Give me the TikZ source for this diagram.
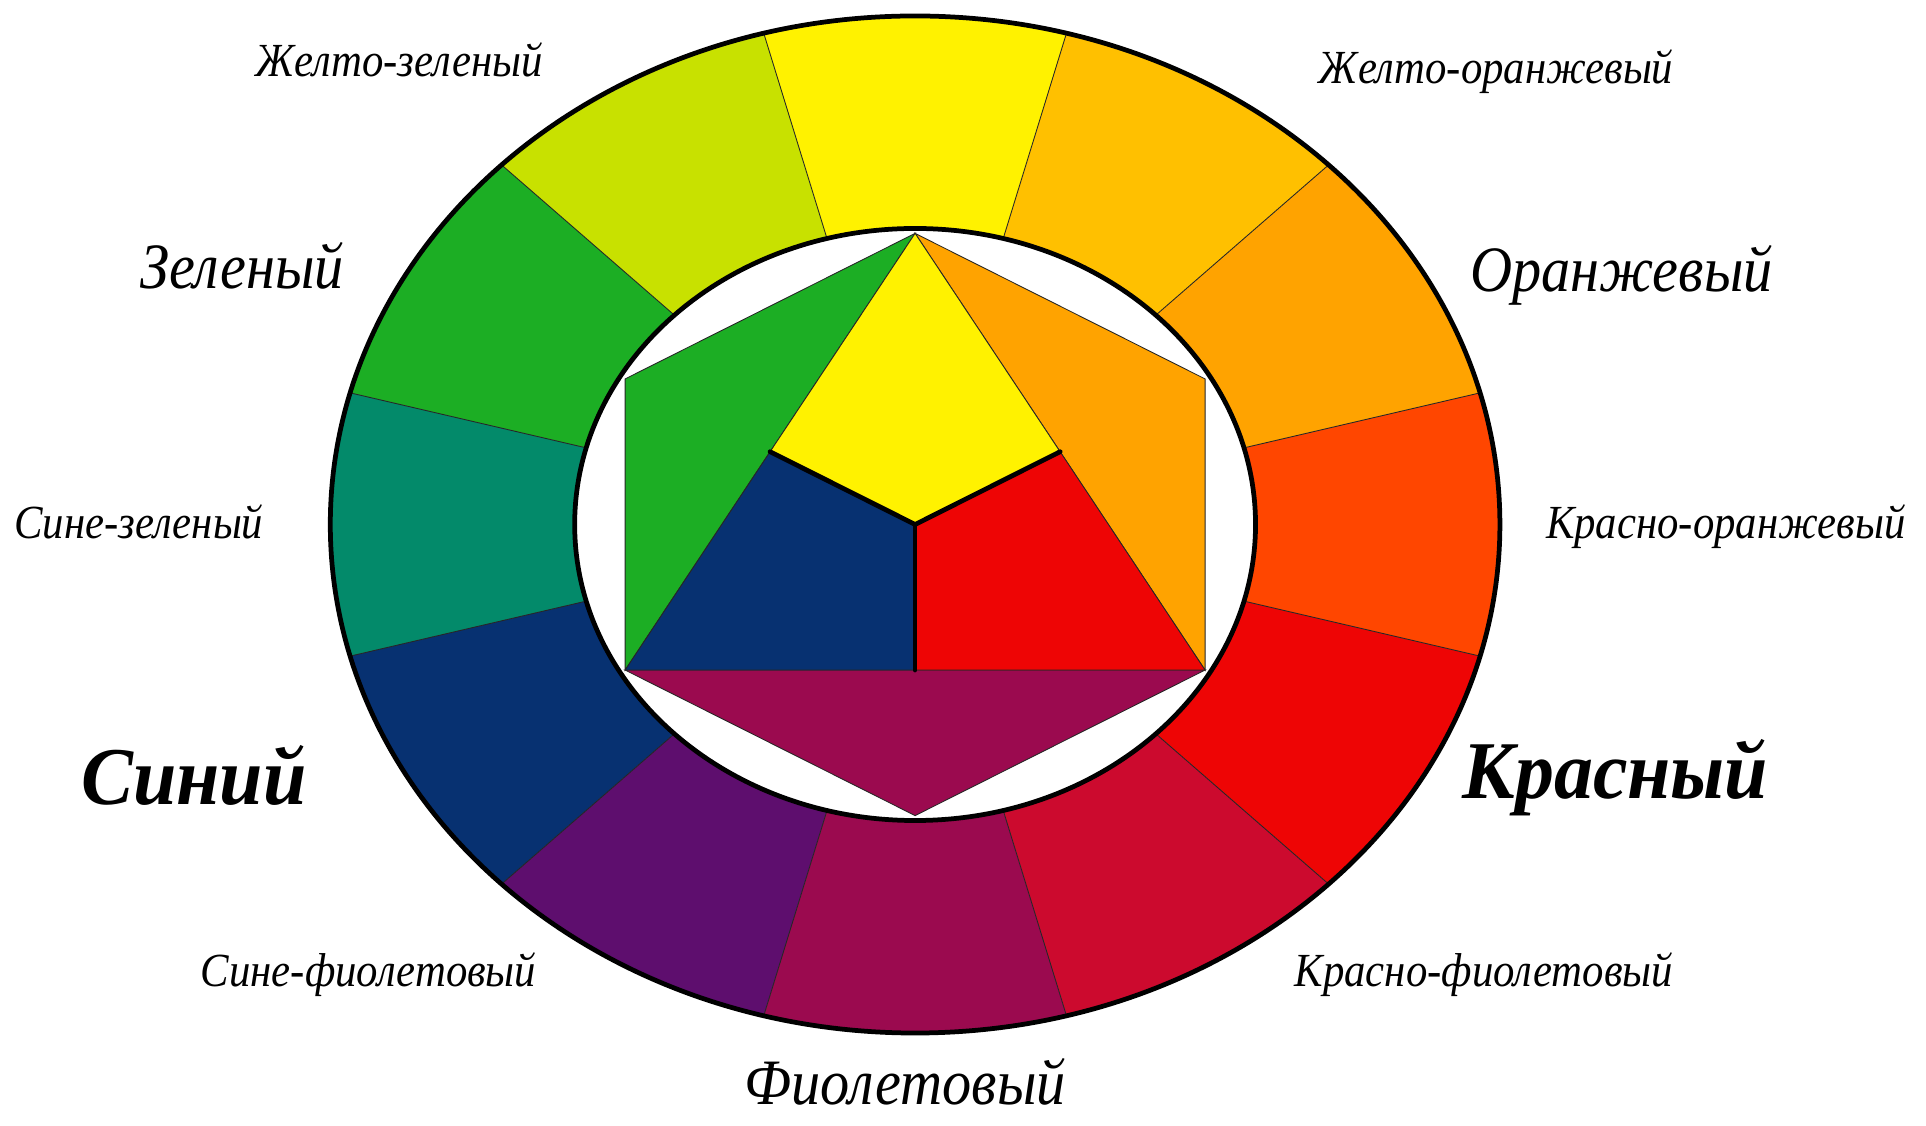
\documentclass[tikz,border=0pt]{standalone}
\usepackage{fontspec}
\setmainfont{Liberation Serif}
\newfontfamily\labfont[FakeStretch=0.9]{Liberation Serif}
\newfontfamily\biglabfont[FakeStretch=0.95]{Liberation Serif}
\usetikzlibrary{calc}
\definecolor{cY}{HTML}{FFF200}
\definecolor{cYG}{HTML}{C8E100}
\definecolor{cG}{HTML}{1CAE24}
\definecolor{cBG}{HTML}{038A6A}
\definecolor{cB}{HTML}{073171}
\definecolor{cBV}{HTML}{5E0E6E}
\definecolor{cV}{HTML}{9B0A4F}
\definecolor{cRV}{HTML}{CC0A2E}
\definecolor{cR}{HTML}{EE0505}
\definecolor{cRO}{HTML}{FF4600}
\definecolor{cO}{HTML}{FFA300}
\definecolor{cYO}{HTML}{FFC000}
\tikzset{
  thinline/.style={draw=black!85, line width=0.4pt},
  rim/.style={draw=black, line width=2.2pt},
  spoke/.style={draw=black, line width=2.2pt, line cap=round},
  smalllab/.style={anchor=base, font=\labfont\itshape\fontsize{22}{26}\selectfont},
  midlab/.style={anchor=base, font=\labfont\itshape\fontsize{30}{34}\selectfont},
  biglab/.style={anchor=base, font=\biglabfont\bfseries\itshape\fontsize{38}{42}\selectfont},
}
\begin{document}
\begin{tikzpicture}
\useasboundingbox (0,0) rectangle (31.36,18.32);
\begin{scope}[shift={(14.90,9.78)}, xscale=1.15]
  \def\Ro{8.28}
  \def\Ri{4.82}
  \def\Rh{4.74}
  % ring segments
  \foreach \c [count=\i from 0] in {cY,cYG,cG,cBG,cB,cBV,cV,cRV,cR,cRO,cO,cYO}{
    \pgfmathsetmacro{\a}{75+30*\i}
    \pgfmathsetmacro{\b}{105+30*\i}
    \fill[\c] (\a:\Ro) arc[start angle=\a, end angle=\b, radius=\Ro]
      -- (\b:\Ri) arc[start angle=\b, end angle=\a, radius=\Ri] -- cycle;
  }
  \foreach \i in {0,...,11}{
    \pgfmathsetmacro{\a}{75+30*\i}
    \draw[thinline] (\a:\Ri) -- (\a:\Ro);
  }
  \draw[rim] (0,0) circle[radius=\Ro];
  \draw[rim, fill=white] (0,0) circle[radius=\Ri];
  % inner figure
  \coordinate (T) at (90:\Rh);
  \coordinate (UL) at (150:\Rh);
  \coordinate (LL) at (210:\Rh);
  \coordinate (B) at (270:\Rh);
  \coordinate (LR) at (330:\Rh);
  \coordinate (UR) at (30:\Rh);
  \coordinate (C) at (0,0);
  \coordinate (ML) at ($(T)!0.5!(LL)$);
  \coordinate (MR) at ($(T)!0.5!(LR)$);
  \coordinate (MB) at ($(LL)!0.5!(LR)$);
  \filldraw[fill=cG, thinline] (T) -- (UL) -- (LL) -- cycle;
  \filldraw[fill=cO, thinline] (T) -- (UR) -- (LR) -- cycle;
  \filldraw[fill=cV, thinline] (LL) -- (B) -- (LR) -- cycle;
  \filldraw[fill=cY, thinline] (T) -- (MR) -- (C) -- (ML) -- cycle;
  \filldraw[fill=cB, thinline] (ML) -- (C) -- (MB) -- (LL) -- cycle;
  \filldraw[fill=cR, thinline] (C) -- (MR) -- (LR) -- (MB) -- cycle;
  \draw[spoke] (ML) -- (C) -- (MR);
  \draw[spoke] (C) -- (MB);
\end{scope}
% labels
\node[smalllab] (yg) at (6.50,17.08) {Желто-зеленый};
\node[smalllab] (yo) at (24.36,16.96) {Желто-оранжевый};
\node[midlab] (g) at (3.94,13.62) {Зеленый};
\node[midlab] (o) at (26.40,13.58) {Оранжевый};
\node[smalllab] (bg) at (2.26,9.56) {Сине-зеленый};
\node[smalllab] (ro) at (28.10,9.56) {Красно-оранжевый};
\node[biglab] (b) at (3.16,5.22) {Синий};
\node[biglab] (r) at (26.30,5.32) {Красный};
\node[smalllab] (bv) at (6.00,2.26) {Сине-фиолетовый};
\node[smalllab] (rv) at (24.16,2.26) {Красно-фиолетовый};
\node[midlab] (v) at (14.74,0.34) {Фиолетовый};
\end{tikzpicture}
\end{document}
